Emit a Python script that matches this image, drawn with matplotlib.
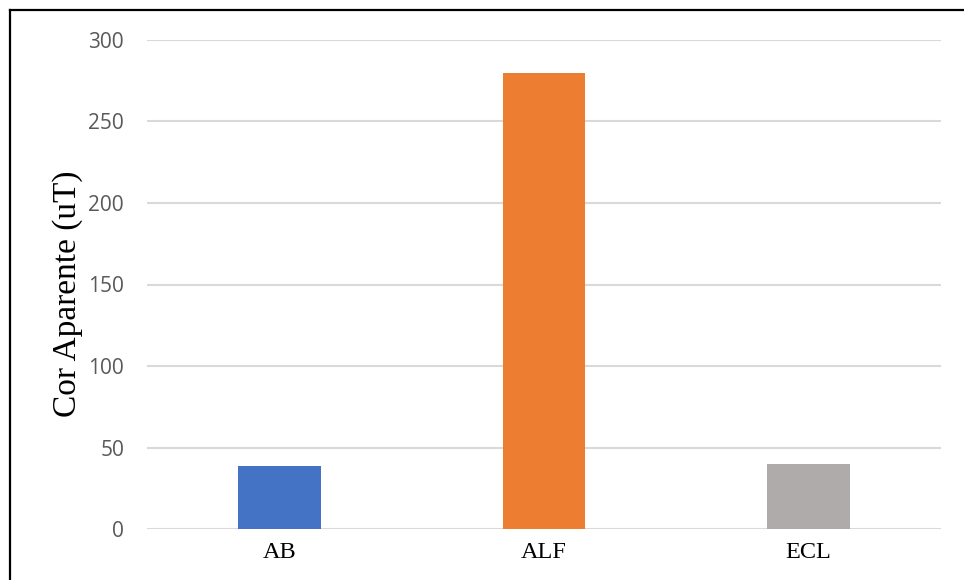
import matplotlib
matplotlib.use("Agg")
import matplotlib.pyplot as plt
from matplotlib.lines import Line2D

categories = ["AB", "ALF", "ECL"]
values = [38.5, 280, 40]
colors = ["#4472C4", "#ED7D31", "#AFABAB"]
yticks = [0, 50, 100, 150, 200, 250, 300]

fig = plt.figure(figsize=(9.64, 5.8), dpi=100)
ax = fig.add_axes([147 / 964, 1 - 529 / 580, (941 - 147) / 964, (529 - 40) / 580])

x = range(len(categories))
ax.bar(x, values, width=0.313, color=colors, zorder=3)

ax.set_xlim(-0.5, len(categories) - 0.5)
ax.set_ylim(0, 300)
ax.set_yticks(yticks)
ax.set_xticks(list(x))
ax.set_xticklabels(categories, family="Liberation Serif", fontsize=17.5, color="black")
for lab in ax.get_yticklabels():
    lab.set_family("Open Sans")
    lab.set_fontsize(15)
    lab.set_color("#595959")
ax.tick_params(axis="both", length=0)
ax.tick_params(axis="y", pad=16.5)
ax.tick_params(axis="x", pad=9)

ax.grid(axis="y", color="#d9d9d9", linewidth=1.5, zorder=0)
for s in ax.spines.values():
    s.set_visible(False)

ax.set_ylabel("Cor Aparente (uT)", family="Liberation Serif", fontsize=24, color="black")
ax.yaxis.set_label_coords(-0.0806, 0.4816)

# frame lines along the left and top edges
fig.add_artist(Line2D([10 / 964, 10 / 964], [0, 1 - 10 / 580], transform=fig.transFigure,
                      color="black", linewidth=1.6))
fig.add_artist(Line2D([10 / 964, 1], [1 - 10 / 580, 1 - 10 / 580], transform=fig.transFigure,
                      color="black", linewidth=1.6))

fig.savefig("out.png", dpi=100)
